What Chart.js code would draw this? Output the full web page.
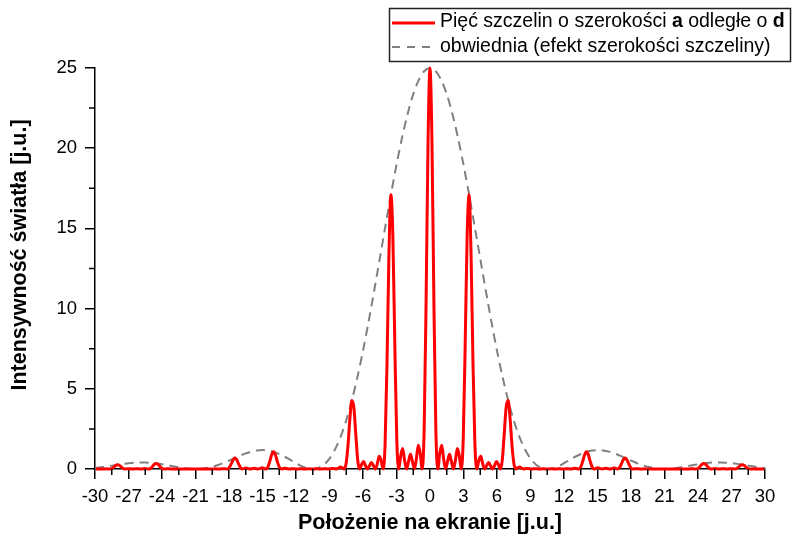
<!DOCTYPE html>
<html><head><meta charset="utf-8">
<script src="https://cdn.jsdelivr.net/npm/chart.js@4"></script>
<style>html,body{margin:0;padding:0;background:#fff}#wrap{width:792px;height:537px}</style>
</head><body><div id="wrap"><canvas id="c" width="792" height="537"></canvas></div>
<script>
// sampling of the measured curve: start position and spacing (x units)
const intensityStart = -29.925;
const intensityStep = 0.175;
// intensity, five slits (x from -29.925 to 29.925)
const intensityLeft = [
0.001,0.003,0.002,0,0.003,0.009,0.007,0,0.020,0.095,0.202,0.267,
0.234,0.128,0.031,0,0.014,0.023,0.010,0,0.008,0.016,0.008,0,
0.010,0.025,0.016,0,0.038,0.158,0.298,0.349,0.271,0.131,0.029,0,
0.010,0.014,0.005,0,0.003,0.005,0.002,0,0.002,0.003,0.002,0,
0.001,0.003,0.001,0,0.001,0.003,0.002,0,0.002,0.004,0.002,0,
0.003,0.008,0.005,0,0.008,0.022,0.017,0,0.050,0.240,0.514,0.684,
0.604,0.332,0.082,0,0.038,0.060,0.026,0,0.023,0.045,0.024,0,
0.030,0.072,0.047,0,0.112,0.474,0.902,1.069,0.840,0.411,0.090,0,
0.032,0.046,0.017,0,0.011,0.019,0.008,0,0.007,0.012,0.006,0,
0.006,0.011,0.006,0,0.006,0.012,0.007,0,0.008,0.018,0.011,0,
0.015,0.036,0.023,0,0.041,0.118,0.090,0,0.289,1.417,3.118,4.275,
3.889,2.207,0.563,0,0.278,0.461,0.206,0,0.194,0.405,0.222,0,
0.308,0.789,0.545,0,1.458,6.585,13.42,17.10,14.52,7.715,1.849,0,
0.811,1.273,0.539,0,0.458,0.912,0.476,0,0.602,1.478,0.977,0,
2.41,10.43,20.41];
const intensityRight = [
25,20.41,10.43,2.41,0,0.977,1.478,0.602,0,0.476,0.912,0.458,
0,0.539,1.273,0.811,0,1.849,7.715,14.52,17.10,13.42,6.585,1.458,
0,0.545,0.789,0.308,0,0.222,0.405,0.194,0,0.206,0.461,0.278,
0,0.563,2.207,3.889,4.275,3.118,1.417,0.289,0,0.090,0.118,0.041,
0,0.023,0.036,0.015,0,0.011,0.018,0.008,0,0.007,0.012,0.006,
0,0.006,0.011,0.006,0,0.006,0.012,0.007,0,0.008,0.019,0.011,
0,0.017,0.046,0.032,0,0.090,0.411,0.840,1.069,0.902,0.474,0.112,
0,0.047,0.072,0.030,0,0.024,0.045,0.023,0,0.026,0.060,0.038,
0,0.082,0.332,0.604,0.684,0.514,0.240,0.050,0,0.017,0.022,0.008,
0,0.005,0.008,0.003,0,0.002,0.004,0.002,0,0.002,0.003,0.001,
0,0.001,0.003,0.001,0,0.002,0.003,0.002,0,0.002,0.005,0.003,
0,0.005,0.014,0.010,0,0.029,0.131,0.271,0.349,0.298,0.158,0.038,
0,0.016,0.025,0.010,0,0.008,0.016,0.008,0,0.010,0.023,0.014,
0,0.031,0.128,0.234,0.267,0.202,0.095,0.020,0,0.007,0.009,0.003,
0,0.002,0.003,0.001];
// envelope (x from -30 to 30, step 0.5)
const envelopeStart = -30;
const envelopeStep = 0.5;
const envelopeLeft = [
0.058,0.102,0.154,0.210,0.267,0.320,0.364,0.395,0.411,0.408,0.387,0.349,
0.296,0.234,0.168,0.104,0.050,0.013,0,0.015,0.061,0.138,0.245,0.377,
0.527,0.684,0.837,0.975,1.085,1.156,1.180,1.151,1.069,0.937,0.764,0.567,
0.365,0.183,0.051,0,0.062,0.269,0.649,1.23,2.02,3.03,4.275,5.73,
7.37,9.18,11.11,13.11,15.12,17.10,18.97,20.67,22.15,23.37,24.26,24.81];
const envelopeRight = [
25,24.81,24.26,23.37,22.15,20.67,18.97,17.10,15.12,13.11,11.11,9.18,
7.37,5.73,4.275,3.03,2.02,1.23,0.649,0.269,0.062,0,0.051,0.183,
0.365,0.567,0.764,0.937,1.069,1.151,1.180,1.156,1.085,0.975,0.837,0.684,
0.527,0.377,0.245,0.138,0.061,0.015,0,0.013,0.050,0.104,0.168,0.234,
0.296,0.349,0.387,0.408,0.411,0.395,0.364,0.320,0.267,0.210,0.154,0.102,0.058];
const xTickStep = 3;
const yTickStep = 5;
const xMinorTicks = [-28.5,-25.5,-22.5,-19.5,-16.5,-13.5,-10.5,-7.5,-4.5,-1.5,1.5,4.5,7.5,10.5,13.5,16.5,19.5,22.5,25.5,28.5];
const yMinorTicks = [2.5,7.5,12.5,17.5,22.5];
const xTitle = 'Położenie na ekranie [j.u.]';
const yTitle = 'Intensywność światła [j.u.]';
const seriesName1 = ['Pięć szczelin o szerokości ', 'a', ' odległe o ', 'd'];
const seriesName2 = 'obwiednia (efekt szerokości szczeliny)';

const intensity = intensityLeft.concat(intensityRight);
const envelope = envelopeLeft.concat(envelopeRight);
const intensityPts = intensity.map((v, i) => ({x: intensityStart + i * intensityStep, y: v}));
const envelopePts = envelope.map((v, i) => ({x: envelopeStart + i * envelopeStep, y: v}));

const FONT = '"Liberation Sans", Arial, sans-serif';

const extras = {
  id: 'extras',
  afterDraw(chart) {
    const ctx = chart.ctx;
    const xs = chart.scales.x, ys = chart.scales.y;
    const a = chart.chartArea;
    ctx.save();
    ctx.strokeStyle = '#000';
    ctx.lineWidth = 1.5;
    ctx.beginPath();
    xMinorTicks.forEach(v => { const p = xs.getPixelForValue(v); ctx.moveTo(p, a.bottom); ctx.lineTo(p, a.bottom + 6); });
    yMinorTicks.forEach(v => { const p = ys.getPixelForValue(v); ctx.moveTo(a.left, p); ctx.lineTo(a.left - 6, p); });
    ctx.stroke();
    // y axis title
    ctx.save();
    ctx.translate(20, 255);
    ctx.rotate(-Math.PI / 2);
    ctx.font = 'bold 21.5px ' + FONT;
    ctx.fillStyle = '#000';
    ctx.textAlign = 'center';
    ctx.textBaseline = 'middle';
    ctx.fillText(yTitle, 0, 0);
    ctx.restore();
    // legend box
    ctx.lineWidth = 1.5;
    ctx.strokeStyle = '#222';
    ctx.strokeRect(389.5, 8.5, 401, 53);
    ctx.lineWidth = 3;
    ctx.strokeStyle = '#ff0000';
    ctx.beginPath(); ctx.moveTo(392, 23); ctx.lineTo(435, 23); ctx.stroke();
    ctx.lineWidth = 2;
    ctx.strokeStyle = '#808080';
    ctx.setLineDash([8, 7]);
    ctx.beginPath(); ctx.moveTo(392, 47); ctx.lineTo(435, 47); ctx.stroke();
    ctx.setLineDash([]);
    ctx.fillStyle = '#000';
    ctx.textBaseline = 'middle';
    ctx.textAlign = 'left';
    let x = 440;
    seriesName1.forEach((t, i) => {
      ctx.font = (i % 2 === 1 ? 'bold ' : '') + '19.5px ' + FONT;
      ctx.fillText(t, x, 22);
      x += ctx.measureText(t).width;
    });
    ctx.font = '19.5px ' + FONT;
    ctx.fillText(seriesName2, 440, 46.5);
    ctx.restore();
  }
};

new Chart(document.getElementById('c'), {
  type: 'line',
  data: {
    datasets: [
      {label: 'five', data: intensityPts, borderColor: '#ff0000', borderWidth: 3, pointRadius: 0,
       cubicInterpolationMode: 'monotone', fill: false, clip: 6},
      {label: 'env', data: envelopePts, borderColor: '#808080', borderWidth: 2, borderDash: [9, 6],
       pointRadius: 0, tension: 0.3, fill: false, clip: 6}
    ]
  },
  options: {
    responsive: false,
    animation: false,
    devicePixelRatio: 1,
    layout: {padding: {left: 0, right: 27, top: 68, bottom: 0}},
    plugins: {legend: {display: false}, tooltip: {enabled: false}},
    scales: {
      x: {
        type: 'linear', min: -30, max: 30,
        afterFit(s) { s.height = 68; },
        ticks: {stepSize: xTickStep, color: '#000', font: {family: FONT, size: 18.5}, padding: 7, maxRotation: 0, autoSkip: false},
        grid: {display: true, drawOnChartArea: false, drawTicks: true, tickLength: 10, tickColor: '#000', lineWidth: 1.5},
        border: {display: true, color: '#000', width: 1.5},
        title: {display: true, text: xTitle, color: '#000', font: {family: FONT, size: 21.5, weight: 'bold'}, padding: {top: 0, bottom: 1.5}}
      },
      y: {
        min: 0, max: 25,
        afterFit(s) { s.width = 95; },
        ticks: {stepSize: yTickStep, color: '#000', font: {family: FONT, size: 18.5}, padding: 8},
        grid: {display: true, drawOnChartArea: false, drawTicks: true, tickLength: 10, tickColor: '#000', lineWidth: 1.5},
        border: {display: true, color: '#000', width: 1.5},
        title: {display: false}
      }
    }
  },
  plugins: [extras]
});
</script></body></html>
